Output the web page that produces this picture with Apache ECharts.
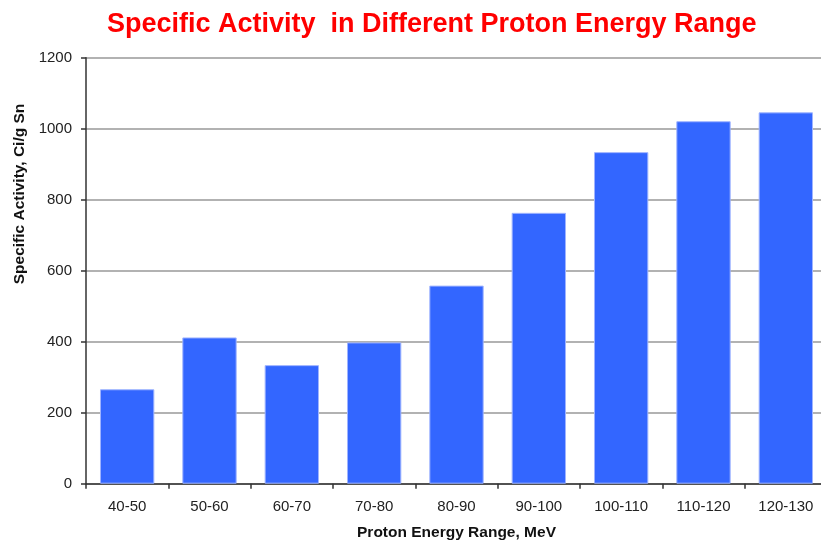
<!DOCTYPE html>
<html>
<head>
<meta charset="utf-8">
<script src="https://cdn.jsdelivr.net/npm/echarts@6/dist/echarts.min.js"></script>
<style>
  html, body { margin: 0; padding: 0; background: #ffffff; }
  #chart { width: 821px; height: 542px; }
</style>
</head>
<body>
<div id="chart"></div>
<script>
// Energy bins (MeV) and measured specific activity (Ci/g Sn)
const energyRanges = ['40-50', '50-60', '60-70', '70-80', '80-90', '90-100', '100-110', '110-120', '120-130'];
const specificActivity = [266, 412, 334, 398, 558, 763, 934, 1021, 1046];
const yTicks = { min: 0, max: 1200, step: 200 };

const chart = echarts.init(document.getElementById('chart'), null, { renderer: 'canvas' });
const font = 'Liberation Sans, Arial, sans-serif';

chart.setOption({
  animation: false,
  backgroundColor: '#ffffff',
  title: {
    text: 'Specific Activity  in Different Proton Energy Range',
    left: 102,
    top: 6,
    textStyle: { color: '#ff0000', fontFamily: font, fontWeight: 'bold', fontSize: 27 }
  },
  graphic: [{
    type: 'text',
    x: 20,
    y: 194,
    rotation: Math.PI / 2,
    style: {
      text: 'Specific Activity, Ci/g Sn',
      fill: '#111',
      font: 'bold 15.5px ' + font,
      textAlign: 'center',
      textVerticalAlign: 'middle'
    }
  }],
  grid: { left: 86, right: -6, top: 57.7, bottom: 58.3, outerBoundsMode: 'none' },
  xAxis: {
    type: 'category',
    data: energyRanges,
    name: 'Proton Energy Range, MeV',
    nameLocation: 'middle',
    nameGap: 41,
    nameTextStyle: { color: '#111', fontFamily: font, fontWeight: 'bold', fontSize: 15.5 },
    axisLine: { lineStyle: { color: '#333', width: 1.5 } },
    axisTick: { show: true, alignWithLabel: false, length: 5, lineStyle: { color: '#333', width: 1.5 } },
    axisLabel: { color: '#222', fontFamily: font, fontSize: 15, margin: 16, interval: 0 },
    splitLine: { show: false }
  },
  yAxis: {
    type: 'value',
    min: yTicks.min,
    max: yTicks.max,
    interval: yTicks.step,
    axisLine: { show: true, lineStyle: { color: '#333', width: 1.5 } },
    axisTick: { show: true, length: 5, lineStyle: { color: '#333', width: 1.5 } },
    axisLabel: { color: '#222', fontFamily: font, fontSize: 15, margin: 14, formatter: v => String(v) },
    splitLine: { show: true, lineStyle: { color: '#999', width: 1.5 } }
  },
  series: [{
    type: 'bar',
    data: specificActivity,
    barWidth: '66%',
    itemStyle: { color: '#3366ff', borderColor: '#9fb4ff', borderWidth: 1 }
  }]
});
</script>
</body>
</html>
